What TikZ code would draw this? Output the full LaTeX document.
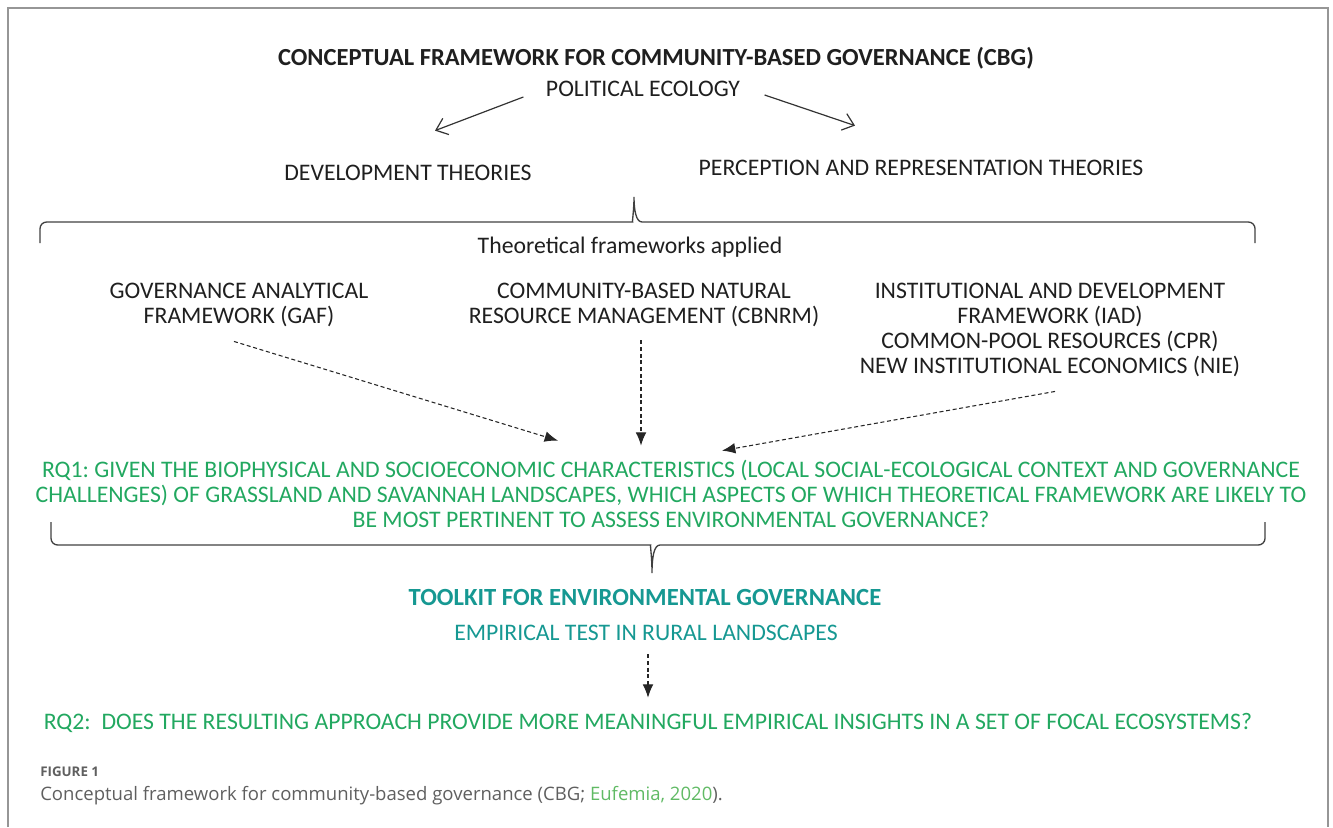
\documentclass[tikz,border=0pt]{standalone}
\usepackage{xcolor}
\usepackage{fontspec}
\setmainfont{Carlito}
\newfontfamily\capfont{Open Sans}
\usepackage{tikz}
\usetikzlibrary{calc}
\usetikzlibrary{arrows.meta}
\usetikzlibrary{positioning}
\tikzset{>=latex}
\frenchspacing
\definecolor{rqgreen}{RGB}{34,168,96}
\definecolor{kitteal}{RGB}{22,152,146}
\definecolor{framegray}{RGB}{150,150,150}
\definecolor{capgray}{RGB}{95,95,95}
\definecolor{refgreen}{RGB}{96,186,100}
\tikzstyle{lbl} = [draw=none, inner sep = 1, align = center, text = black!88, font = \fontsize{17.8}{18.75}\selectfont]
\tikzstyle{rq} = [lbl, text = rqgreen]
\tikzstyle{kit} = [lbl, text = kitteal]
\tikzstyle{dsh} = [-{Latex[length=10pt, width=8pt]}, dash pattern = on 3pt off 2pt, line width = 0.8pt, draw = black!85]
\tikzstyle{sld} = [-{Straight Barb[length=8pt, width=13pt]}, line width = 0.9pt, draw = black!80]
\tikzstyle{brc} = [draw = black!75, line width = 1pt, rounded corners = 5]

\begin{document}
\begin{tikzpicture}[x = 0.75pt, y = -0.75pt]
\useasboundingbox (0, 0) rectangle (1333, 827);
\draw [framegray, line width = 1pt] (8, 827) -- (8, 8) -- (1328, 8) -- (1328, 827);
% top part
\node [lbl, font = \fontsize{18.4}{20}\selectfont\bfseries] (T) at (656, 58) {CONCEPTUAL FRAMEWORK FOR COMMUNITY-BASED GOVERNANCE (CBG)};
\node [lbl] (PE) at (643, 89) {POLITICAL ECOLOGY};
\node [lbl] (DT) at (408, 173) {DEVELOPMENT THEORIES};
\node [lbl] (PR) at (921, 168) {PERCEPTION AND REPRESENTATION THEORIES};
\draw [sld] ($(PE.west) + (-21, 8)$) to ($(DT.north) + (27, -33)$);
\draw [sld] ($(PE.east) + (23, 6)$) to ($(PR.north) + (-66, -33)$);
% brace
\draw [brc] (40, 243) -- (40, 222) -- (626, 222) [sharp corners] .. controls (632, 222) and (634, 210) .. (634, 197) .. controls (634, 210) and (636, 222) .. (642, 222) [rounded corners = 5] -- (1255, 222) -- (1255, 243);
\node [lbl] (TF) at (630, 247) {Theoretical frameworks applied};
\node [lbl] (GAF) at (239, 305) {GOVERNANCE ANALYTICAL\\FRAMEWORK (GAF)};
\node [lbl] (CB) at (644, 305) {COMMUNITY-BASED NATURAL\\RESOURCE MANAGEMENT (CBNRM)};
\node [lbl] (IAD) at (1050, 330) {INSTITUTIONAL AND DEVELOPMENT\\FRAMEWORK (IAD)\\COMMON-POOL RESOURCES (CPR)\\NEW INSTITUTIONAL ECONOMICS (NIE)};
\node [rq] (RQ1) at (671, 494) {RQ1: GIVEN THE BIOPHYSICAL AND SOCIOECONOMIC CHARACTERISTICS (LOCAL SOCIAL-ECOLOGICAL CONTEXT AND GOVERNANCE\\CHALLENGES) OF GRASSLAND AND SAVANNAH LANDSCAPES, WHICH ASPECTS OF WHICH THEORETICAL FRAMEWORK ARE LIKELY TO\\BE MOST PERTINENT TO ASSESS ENVIRONMENTAL GOVERNANCE?};
\draw [dsh] ($(GAF.south) + (-5, 13)$) to ($(RQ1.north) + (-113, -18)$);
\draw [dsh] ($(CB.south) + (-3, 12)$) to ($(RQ1.north) + (-30, -13)$);
\draw [dsh] ($(IAD.south) + (5, 13)$) to ($(RQ1.north) + (51, -8)$);
% lower brace
\draw [brc] (51, 522) -- (51, 545) -- (644, 545) [sharp corners] .. controls (650, 545) and (652, 557) .. (652, 573) .. controls (652, 557) and (654, 545) .. (660, 545) [rounded corners = 5] -- (1265, 545) -- (1265, 522);
\node [kit, font = \fontsize{18.5}{20}\selectfont\bfseries] (TK) at (645, 597) {TOOLKIT FOR ENVIRONMENTAL GOVERNANCE};
\node [kit] (ET) at (646, 633) {EMPIRICAL TEST IN RURAL LANDSCAPES};
\node [rq] (RQ2) at (648, 723) {RQ2:\ \ DOES THE RESULTING APPROACH PROVIDE MORE MEANINGFUL EMPIRICAL INSIGHTS IN A SET OF FOCAL ECOSYSTEMS?};
\draw [dsh] ($(ET.south) + (2, 12)$) to ($(RQ2.north) + (0, -14)$);
% caption
\node [draw=none, inner sep = 0, anchor = west, text = capgray, font = \capfont\fontsize{10}{12}\selectfont\bfseries] (F1) at (40, 772) {FIGURE 1};
\node [draw=none, inner sep = 0, anchor = west, text = capgray, font = \capfont\fontsize{13.9}{16}\selectfont] (CAP) at (40, 796) {Conceptual framework for community-based governance (CBG; \textcolor{refgreen}{Eufemia, 2020}).};
\end{tikzpicture}
\end{document}
